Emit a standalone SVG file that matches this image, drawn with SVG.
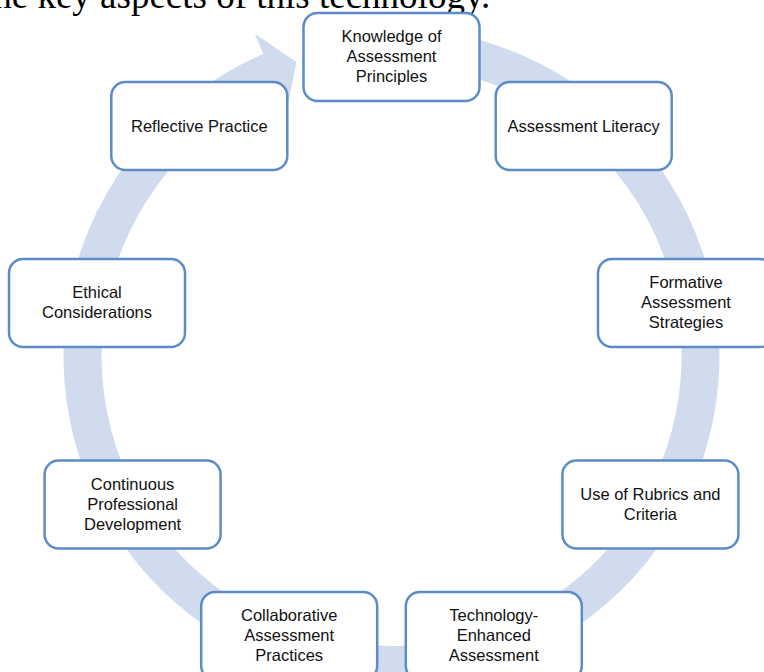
<svg xmlns="http://www.w3.org/2000/svg" width="764" height="672" viewBox="0 0 764 672">
  <style>
    .node rect { fill: #ffffff; stroke: #5b8cc7; stroke-width: 2.5; }
    .node text { font-family: "Liberation Sans", Arial, sans-serif; font-size: 16.5px; fill: #111111; text-anchor: middle; }
    .heading { font-family: "Liberation Serif", "Times New Roman", serif; font-size: 37px; fill: #000000; }
    .ring { fill: #d0dcee; }
  </style>

  <rect x="0" y="0" width="764" height="672" fill="#ffffff"/>

  <!-- body text running above the figure -->
  <text class="heading" x="-17" y="8">the key aspects of this technology.</text>

  <!-- circular cycle arrow behind the nodes -->
  <g id="connectors">
    <path class="ring" d="M 448.4 33.0 A 328 328 0 1 1 263.3 54.1 L 254.8 33.8 L 296.5 62.0 L 286.8 109.3 L 278.2 89.1 A 290 290 0 1 0 441.8 70.4 Z"/>
  </g>

  <g id="node-knowledge" class="node">
    <rect x="303.5" y="13" width="176" height="88" rx="14"/>
    <text x="391.5" y="42">Knowledge of</text>
    <text x="391.5" y="62">Assessment</text>
    <text x="391.5" y="82">Principles</text>
  </g>

  <g id="node-literacy" class="node">
    <rect x="495.7" y="82" width="176" height="88" rx="14"/>
    <text x="583.7" y="132">Assessment Literacy</text>
  </g>

  <g id="node-formative" class="node">
    <rect x="598" y="259" width="176" height="88" rx="14"/>
    <text x="686" y="288">Formative</text>
    <text x="686" y="308">Assessment</text>
    <text x="686" y="328">Strategies</text>
  </g>

  <g id="node-rubrics" class="node">
    <rect x="562.4" y="460.5" width="176" height="88" rx="14"/>
    <text x="650.4" y="500">Use of Rubrics and</text>
    <text x="650.4" y="520">Criteria</text>
  </g>

  <g id="node-technology" class="node">
    <rect x="405.8" y="592" width="176" height="88" rx="14"/>
    <text x="493.8" y="621">Technology-</text>
    <text x="493.8" y="641">Enhanced</text>
    <text x="493.8" y="661">Assessment</text>
  </g>

  <g id="node-collaborative" class="node">
    <rect x="201.2" y="592" width="176" height="88" rx="14"/>
    <text x="289.2" y="621">Collaborative</text>
    <text x="289.2" y="641">Assessment</text>
    <text x="289.2" y="661">Practices</text>
  </g>

  <g id="node-cpd" class="node">
    <rect x="44.6" y="460.5" width="176" height="88" rx="14"/>
    <text x="132.6" y="490">Continuous</text>
    <text x="132.6" y="510">Professional</text>
    <text x="132.6" y="530">Development</text>
  </g>

  <g id="node-ethical" class="node">
    <rect x="9" y="259" width="176" height="88" rx="14"/>
    <text x="97" y="298">Ethical</text>
    <text x="97" y="318">Considerations</text>
  </g>

  <g id="node-reflective" class="node">
    <rect x="111.3" y="82" width="176" height="88" rx="14"/>
    <text x="199.3" y="132">Reflective Practice</text>
  </g>
</svg>
